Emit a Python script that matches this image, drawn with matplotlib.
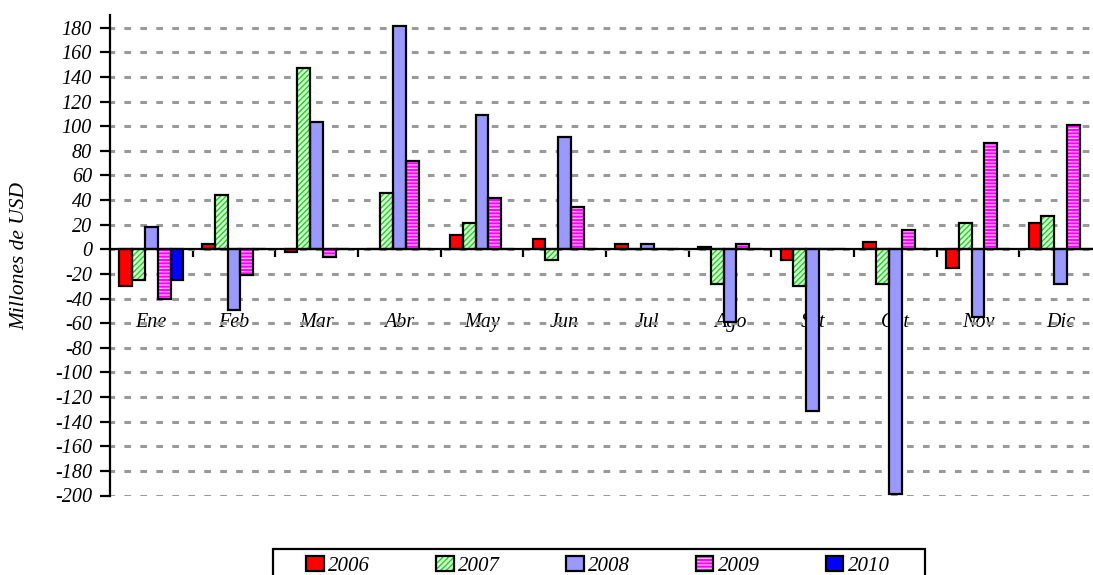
import numpy as np
import matplotlib
matplotlib.use("Agg")
import matplotlib.pyplot as plt
from matplotlib.patches import Rectangle
from matplotlib.ticker import FixedLocator, NullFormatter, FixedFormatter

months = ["Ene", "Feb", "Mar", "Abr", "May", "Jun", "Jul", "Ago", "Set", "Oct", "Nov", "Dic"]
years = ["2006", "2007", "2008", "2009", "2010"]
v2006 = [-30, 4, -2, 0, 12, 8, 4, 2, -9, 6, -15, 21]
v2007 = [-25, 44, 147, 46, 21, -9, 0, -28, -30, -28, 21, 27]
v2008 = [18, -49, 103, 181, 109, 91, 4, -59, -131, -199, -55, -28]
v2009 = [-40, -21, -6, 72, 42, 34, 0, 4, 0, 16, 86, 101]
v2010 = [-25, 0, 0, 0, 0, 0, 0, 0, 0, 0, 0, 0]
series = [v2006, v2007, v2008, v2009, v2010]
yticks = list(range(-200, 181, 20))

styles = [
    dict(face="#FF0000", hatch=None, hc="#FF0000"),
    dict(face="#DDFFDD", hatch="//////", hc="#11DD11"),
    dict(face="#9999FF", hatch=None, hc="#9999FF"),
    dict(face="#FF00FF", hatch="-----", hc="#FFA8FF"),
    dict(face="#0000FF", hatch=None, hc="#0000FF"),
]

plt.rcParams["hatch.linewidth"] = 1.0
plt.rcParams["lines.scale_dashes"] = False
W, H = 1093, 575
fig = plt.figure(figsize=(W / 100, H / 100), dpi=100)
ax = fig.add_axes([110 / W, 1 - 495.5 / H, (1102 - 110) / W, (495.5 - 15.4) / H])

fams = ["Liberation Serif", "DejaVu Serif"]
font = dict(family=fams, style="italic", size=14.5)

x = np.arange(len(months)) + 0.5
bw = 0.155
handles = []
for k, (vals, st) in enumerate(zip(series, styles)):
    pos = x + (k - 2) * bw
    b1 = ax.bar(pos, vals, bw, color=st["face"], edgecolor=st["hc"], linewidth=0,
                hatch=st["hatch"], zorder=2)
    b2 = ax.bar(pos, vals, bw, fill=False, edgecolor="black", linewidth=1.6, zorder=2.2)
    handles.append((b1.patches[0], b2.patches[0]))

ax.set_xlim(0, 12)
ax.set_ylim(-200, 190)
ax.spines["top"].set_visible(False)
ax.spines["right"].set_visible(False)
ax.spines["bottom"].set_position(("data", 0))
ax.spines["bottom"].set_linewidth(1.6)
ax.spines["left"].set_linewidth(1.6)
ax.spines["bottom"].set_zorder(3)
ax.spines["left"].set_zorder(3)

ax.set_yticks(yticks)
ax.set_yticklabels([str(t) for t in yticks], fontdict=font)
ax.tick_params(axis="y", direction="out", length=7, width=1.6, pad=6)

ax.xaxis.set_major_locator(FixedLocator(list(range(1, 12))))
ax.xaxis.set_major_formatter(NullFormatter())
ax.xaxis.set_minor_locator(FixedLocator(list(x)))
ax.xaxis.set_minor_formatter(FixedFormatter(months))
ax.tick_params(axis="x", which="major", direction="out", length=6, width=1.6)
ax.tick_params(axis="x", which="minor", length=0, pad=46)
for lab in ax.get_xticklabels(minor=True):
    lab.set_fontfamily(fams)
    lab.set_fontstyle("italic")
    lab.set_fontsize(14.5)

ax.set_axisbelow(True)
ax.yaxis.grid(True, color="#9A9A9A", linewidth=2.2, linestyle=(1.5, (4.8, 6.7)))
ax.xaxis.grid(False)

fig.text(20 / W, 1 - 256 / H, "Millones de USD", rotation=90, ha="center", va="center",
         fontdict=dict(family=fams, style="italic", size=15.5))

fig.patches.append(Rectangle((273 / W, -0.1), (925 - 273) / W, 0.1 + 1 - 549 / H,
                             transform=fig.transFigure, fill=False, edgecolor="black",
                             linewidth=1.6))
fig.legend(handles, years, loc="upper left", bbox_to_anchor=(306 / W, 1 - 556 / H),
           ncol=5, frameon=False, borderpad=0, borderaxespad=0, handlelength=0.85,
           handleheight=0.7, handletextpad=0.22, columnspacing=3.15,
           prop=dict(family=fams, style="italic", size=15))

fig.savefig("out.png", dpi=100)
